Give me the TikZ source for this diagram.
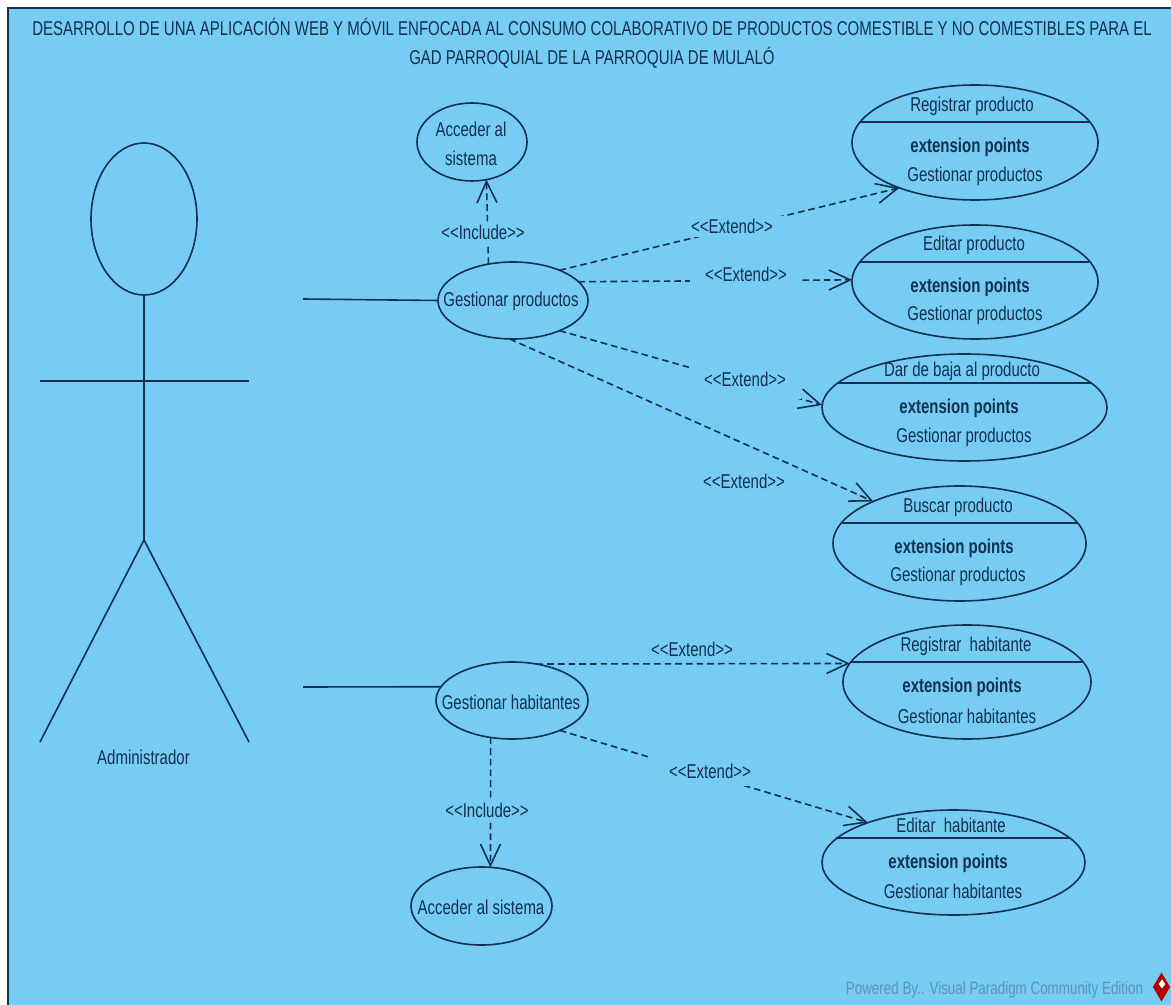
\documentclass[tikz,border=0pt]{standalone}
\usepackage{xcolor}
\usepackage{fontspec}
\setmainfont[FakeStretch=0.75]{Liberation Sans}
\usetikzlibrary{shapes.geometric}
\usetikzlibrary{arrows.meta}
\definecolor{fondo}{HTML}{76CCF3}
\definecolor{tinta}{HTML}{12304F}
\definecolor{marca}{HTML}{5E93B4}
\newcommand{\estereo}[1]{<\kern0pt<#1>\kern0pt>}
\tikzset{
    casouso/.style = {ellipse, draw=tinta, inner sep=0pt, outer sep=0pt, line width=1.2pt},
    texto/.style = {text=tinta, inner sep=0pt, align=center, yshift=-1pt, font=\fontsize{15}{21.75}\selectfont},
    negrita/.style = {texto, font=\fontsize{15}{21.75}\selectfont\bfseries},
    etiqueta/.style = {texto, fill=fondo, inner xsep=8pt, inner ysep=2.5pt},
    actor/.style = {-, draw=tinta, line width=1.2pt},
    relacion/.style = {draw=tinta, line width=1.2pt, dash pattern=on 5pt off 3pt, -{Straight Barb[length=16pt,width=15pt]}},
    barra/.style = {-, draw=tinta, line width=1.4pt},
}
\begin{document}
\begin{tikzpicture}[x=0.75pt,y=-0.75pt]
\useasboundingbox (0,0) rectangle (1171,1005);
\fill[white] (0,0) rectangle (1171,1005);
\draw[fill=fondo,draw=tinta,line width=1pt] (8,8) rectangle (1175,1010);
\node[texto] at (592,42) (titulo) {DESARROLLO DE UNA APLICACIÓN WEB Y MÓVIL ENFOCADA AL CONSUMO COLABORATIVO DE PRODUCTOS COMESTIBLE Y NO COMESTIBLES PARA EL\\GAD PARROQUIAL DE LA PARROQUIA DE MULALÓ};
% actor
\node[casouso,minimum width=79.5pt,minimum height=114pt] at (144,219) (cabeza) {};
\coordinate (hombro) at (144,381);
\coordinate (cadera) at (144,540);
\coordinate (manoi) at (40,381);
\coordinate (manod) at (249,381);
\coordinate (piei) at (40,742);
\coordinate (pied) at (249,742);
\coordinate (lineap) at (303,299);
\coordinate (lineah) at (303,687);
\draw[actor] (cabeza.south) -- (cadera);
\draw[actor] (manoi) -- (manod);
\draw[actor] (piei) -- (cadera) -- (pied);
\node[texto] at (143.5,756) (admin) {Administrador};
% casos de uso
\node[casouso,minimum width=82.5pt,minimum height=58.5pt] at (472,142) (acc) {};
\node[casouso,minimum width=112.5pt,minimum height=57.75pt] at (513,300.5) (gp) {};
\node[casouso,minimum width=114pt,minimum height=57.75pt] at (512,700.5) (gh) {};
\node[casouso,minimum width=105.75pt,minimum height=58.5pt] at (481.5,906) (accb) {};
\node[casouso,minimum width=184.5pt,minimum height=86.25pt] at (975,142.5) (rp) {};
\node[casouso,minimum width=184.5pt,minimum height=85.5pt] at (975,282) (ep) {};
\node[casouso,minimum width=213.75pt,minimum height=80.25pt] at (964.5,407.5) (dp) {};
\node[casouso,minimum width=189.75pt,minimum height=86.25pt] at (959.5,543.5) (bp) {};
\node[casouso,minimum width=186pt,minimum height=85.5pt] at (967,682) (rh) {};
\node[casouso,minimum width=197.25pt,minimum height=78.75pt] at (953.5,862.5) (eh) {};
%
\draw[barra] (860,122) -- (1089,122);
\draw[barra] (860,262) -- (1089,262);
\draw[barra] (837,383) -- (1092,383);
\draw[barra] (842,523) -- (1077,523);
\draw[barra] (850,662) -- (1082,662);
\draw[barra] (836,838) -- (1069,838);
%
\node[texto] at (471,142.5) (acct) {Acceder al\\sistema};
\node[texto] at (511,300) (gpt) {Gestionar productos};
\node[texto] at (511,701) (ght) {Gestionar habitantes};
\node[texto] at (481,906) (accbt) {Acceder al sistema};
%
\node[texto] at (972,105) (rpt) {Registrar producto};
\node[negrita] at (970,146) (rpe) {extension points};
\node[texto] at (975,175) (rpg) {Gestionar productos};
%
\node[texto] at (974,244) (ept) {Editar producto};
\node[negrita] at (970,286) (epe) {extension points};
\node[texto] at (975,314) (epg) {Gestionar productos};
%
\node[texto] at (962,370) (dpt) {Dar de baja al producto};
\node[negrita] at (959,407) (dpe) {extension points};
\node[texto] at (964,436) (dpg) {Gestionar productos};
%
\node[texto] at (958,506) (bpt) {Buscar producto};
\node[negrita] at (954,547) (bpe) {extension points};
\node[texto] at (958,575) (bpg) {Gestionar productos};
%
\node[texto] at (966,645) (rht) {Registrar\ \ habitante};
\node[negrita] at (962,686) (rhe) {extension points};
\node[texto] at (967,715) (rhg) {Gestionar habitantes};
%
\node[texto] at (951,824) (eht) {Editar\ \ habitante};
\node[negrita] at (948,862) (ehe) {extension points};
\node[texto] at (953,890) (ehg) {Gestionar habitantes};
% lineas
\draw[actor] (lineap) -- (gp.180);
\draw[actor] (lineah) -- (gh.169.4);
\draw[relacion] (gp.124) -- (acc.-69.4);
\draw[relacion] (gh.240.3) -- (accb.77.7);
\draw[relacion] (gp.33) -- (rp.211.2);
\draw[relacion] (gp.16.7) -- (ep.179.5);
\draw[relacion] (gp.-33) -- (dp.179.4);
\draw[relacion] (gp.265.5) -- (bp.154.8);
\draw[relacion] (gh.56.7) -- (rh.171.3);
\draw[relacion] (gh.-32.5) -- (eh.155.4);
%
\node[etiqueta,inner xsep=3pt] at (483,231) (inca) {\estereo{Include}};
\node[etiqueta,inner xsep=3pt] at (487,809) (incb) {\estereo{Include}};
\node[etiqueta] at (732,225) (ext1) {\estereo{Extend}};
\node[etiqueta,inner xsep=11pt] at (746,273) (ext2) {\estereo{Extend}};
\node[etiqueta,inner xsep=11pt,inner ysep=9pt] at (745,378) (ext3) {\estereo{Extend}};
\node[texto] at (744,480) (ext4) {\estereo{Extend}};
\node[texto] at (692,648) (ext5) {\estereo{Extend}};
\node[etiqueta,inner xsep=15pt,inner ysep=5.5pt] at (710,770) (ext6) {\estereo{Extend}};
% marca de agua
\node[texto,text=marca,font=\fontsize{13.4}{14}\selectfont] at (994.5,989) (power) {Powered By.. Visual Paradigm Community Edition};
\node[diamond,fill=red!70!black,inner sep=0pt,minimum width=13pt,minimum height=22pt] at (1161.5,987) (logo) {};
\node[diamond,fill=white,inner sep=0pt,minimum width=5pt,minimum height=7pt] at (1162,984) (logob) {};
\end{tikzpicture}
\end{document}
